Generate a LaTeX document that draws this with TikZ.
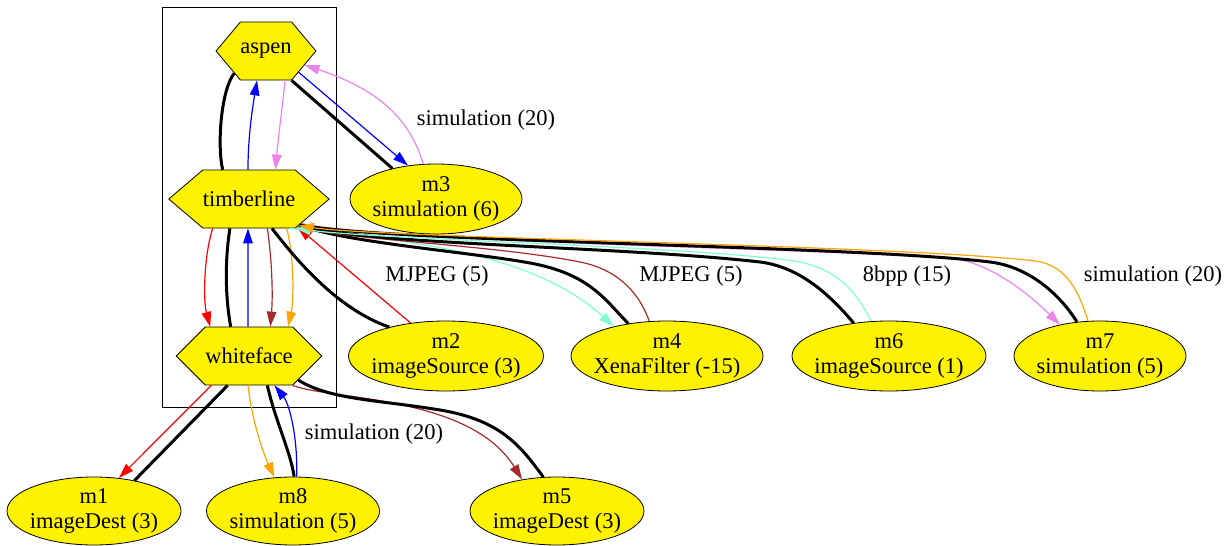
\documentclass[tikz,border=0pt]{standalone}
\usepackage{fontspec}
\setmainfont{Liberation Serif}
\usetikzlibrary{shapes.geometric,shapes.symbols,arrows.meta}
\definecolor{aqua}{HTML}{7FFFD4}
\definecolor{viol}{HTML}{EE82EE}
\definecolor{brwn}{HTML}{A52A2A}
\definecolor{orng}{HTML}{FFA500}
\begin{document}
\begin{tikzpicture}[x=0.5pt,y=-0.5pt,
  every node/.style={font=\rmfamily\fontsize{11.25}{12.5}\selectfont},
  host/.style={signal, signal to=east and west, draw, line width=0.4pt, fill=yellow, minimum height=29pt, inner sep=0pt},
  module/.style={ellipse, draw, line width=0.4pt, fill=yellow, inner xsep=-4pt, inner ysep=0pt, align=center, minimum height=35pt},
  tie/.style={line width=1.5pt},
  msg/.style={line width=0.6pt, -{Triangle[length=7.5pt,width=4.8pt]}}]
\useasboundingbox (0,0) rectangle (1228,546);
\draw[line width=0.5pt] (162,7) rectangle (336,407);
\node[host, minimum width=49pt, signal pointer angle=100] (aspen) at (266,51) {aspen};
\node[host, minimum width=73pt, signal pointer angle=81] (timberline) at (249,199) {timberline};
\node[host, minimum width=69.5pt, signal pointer angle=90] (whiteface) at (249,356) {whiteface};
\node[module, minimum width=86pt] (m3) at (436,199) {m3\\simulation (6)};
\node[module, minimum width=97.5pt] (m2) at (446,356) {m2\\imageSource (3)};
\node[module, minimum width=96pt] (m4) at (667,356) {m4\\XenaFilter (-15)};
\node[module, minimum width=97pt] (m6) at (889,356) {m6\\imageSource (1)};
\node[module, minimum width=86pt] (m7) at (1100,356) {m7\\simulation (5)};
\node[module, minimum width=87pt, minimum height=34pt] (m1) at (94,511) {m1\\imageDest (3)};
\node[module, minimum width=86.5pt, minimum height=34pt] (m8) at (293,511) {m8\\simulation (5)};
\node[module, minimum width=87pt, minimum height=34pt] (m5) at (557,511) {m5\\imageDest (3)};
\node (lbl1) at (486,120) {simulation (20)};
\node (lbl2) at (437,276) {MJPEG (5)};
\node (lbl3) at (691,276) {MJPEG (5)};
\node (lbl4) at (907,276) {8bpp (15)};
\node (lbl5) at (1153,276) {simulation (20)};
\node (lbl6) at (374,434) {simulation (20)};

\draw[tie] (aspen.215) .. controls (221,90) and (217,145) .. (timberline.132);
\draw[msg, blue] (timberline.92) .. controls (248,135) and (253,105) .. (aspen.253);
\draw[msg, viol] (aspen.303) .. controls (282,110) and (278,140) .. (timberline.48);
\draw[tie] (aspen.311) -- (m3.145);
\draw[msg, blue] (aspen.327) -- (m3.130);
\draw[msg, viol] (m3.110) .. controls (410,120) and (380,90) .. (aspen.340);
\draw[msg, red] (timberline.219) .. controls (204,255) and (203,300) .. (whiteface.143);
\draw[tie] (timberline.237) .. controls (225,260) and (225,295) .. (whiteface.122);
\draw[msg, blue] (whiteface.92) -- (timberline.268);
\draw[msg, brwn] (timberline.302) .. controls (272,260) and (273,295) .. (whiteface.54);
\draw[msg, orng] (timberline.322) .. controls (294,255) and (294,300) .. (whiteface.37);
\draw[tie] (timberline.308) .. controls (300,265) and (340,310) .. (m2.153);
\draw[msg, red] (m2.137) -- (timberline.330);
\draw[msg, aqua] (timberline.324) .. controls (400,240) and (530,250) .. (m4.151);
\draw[tie] (timberline.333) .. controls (340,242) and (470,252) .. (530,263) .. controls (590,274) and (605,300) .. (m4.140);
\draw[msg, brwn] (m4.117) .. controls (640,295) and (620,270) .. (580,262) .. controls (500,246) and (360,240) .. (timberline.330);
\draw[tie] (timberline.333) .. controls (360,245) and (620,246) .. (760,262) .. controls (800,267) and (830,295) .. (m6.137);
\draw[msg, aqua] (m6.117) .. controls (860,300) and (845,272) .. (800,262) .. controls (700,246) and (380,240) .. (timberline.328);
\draw[msg, viol] (timberline.335) .. controls (380,242) and (800,248) .. (950,258) .. controls (990,262) and (1030,295) .. (m7.142);
\draw[tie] (timberline.333) .. controls (380,242) and (850,245) .. (990,262) .. controls (1030,267) and (1060,295) .. (m7.124);
\draw[msg, orng] (m7.109) .. controls (1080,295) and (1068,265) .. (1035,261) .. controls (900,245) and (380,238) .. (timberline.332);
\draw[msg, red] (whiteface.218) -- (m1.53);
\draw[tie] (whiteface.234) -- (m1.37);
\draw[msg, orng] (whiteface.268) .. controls (252,420) and (262,450) .. (m8.119);
\draw[tie] (whiteface.302) .. controls (275,420) and (290,450) .. (m8.88);
\draw[msg, blue] (m8.84) .. controls (298,440) and (290,405) .. (whiteface.311);
\draw[msg, brwn] (whiteface.326) .. controls (330,400) and (470,395) .. (m5.138);
\draw[tie] (whiteface.334) .. controls (330,400) and (380,400) .. (440,410) .. controls (500,420) and (520,445) .. (m5.112);
\end{tikzpicture}
\end{document}
